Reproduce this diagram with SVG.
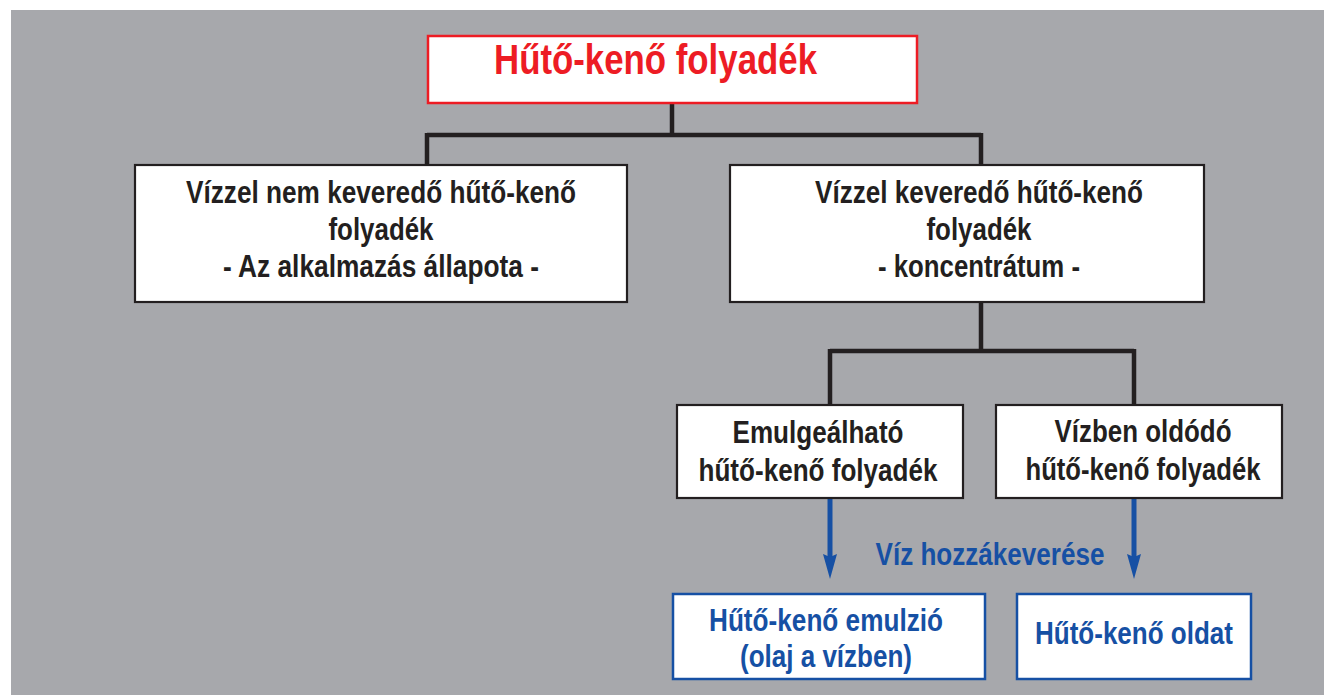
<svg xmlns="http://www.w3.org/2000/svg" width="1324" height="695" viewBox="0 0 1324 695">
<style>
text{font-family:"Liberation Sans",Arial,sans-serif;font-weight:bold;text-anchor:middle}
.blk{fill:#231f20;font-size:31px}
.blu{fill:#1650a4;font-size:31px}
.red{fill:#ed1c24;font-size:43px;text-anchor:start}
.bx{fill:#fff;stroke:#231f20;stroke-width:2.2}
.rbx{fill:#fff;stroke:#ed1c24;stroke-width:2.5}
.bbx{fill:#fff;stroke:#1650a4;stroke-width:2.5}
.con{fill:none;stroke:#231f20;stroke-width:4.5}
.arr{fill:none;stroke:#1650a4;stroke-width:5}
</style>
<defs>
<marker id="ah" markerUnits="userSpaceOnUse" markerWidth="26" markerHeight="14" refX="3" refY="7" orient="auto">
<path d="M0,0 L25,7 L0,14 L3,7 Z" fill="#1650a4"/>
</marker>
</defs>
<rect x="11" y="10" width="1313" height="685" fill="#a7a8ac"/>
<g id="connectors">
<path class="con" d="M672,103 V135 M427,135 H981 M427,133 V165 M981,133 V165"/>
<path class="con" d="M981,302 V351 M830,351 H1134 M830,349 V405 M1134,349 V405"/>
<line class="arr" x1="830" y1="499" x2="830" y2="557" marker-end="url(#ah)"/>
<line class="arr" x1="1134" y1="499" x2="1134" y2="557" marker-end="url(#ah)"/>
</g>
<g id="label-viz">
<text class="blu" x="990" y="565" textLength="229" lengthAdjust="spacingAndGlyphs">Víz hozzákeverése</text>
</g>
<g id="node-root">
<rect class="rbx" x="428" y="36" width="489" height="67"/>
<text class="red" x="494" y="74" textLength="323" lengthAdjust="spacingAndGlyphs">Hűtő-kenő folyadék</text>
</g>
<g id="node-nem">
<rect class="bx" x="135" y="165" width="492" height="137"/>
<text class="blk" x="381" y="203" textLength="390" lengthAdjust="spacingAndGlyphs">Vízzel nem keveredő hűtő-kenő</text>
<text class="blk" x="381" y="240" textLength="105" lengthAdjust="spacingAndGlyphs">folyadék</text>
<text class="blk" x="381" y="277" textLength="316" lengthAdjust="spacingAndGlyphs">- Az alkalmazás állapota -</text>
</g>
<g id="node-kev">
<rect class="bx" x="730" y="165" width="474" height="137"/>
<text class="blk" x="979" y="203" textLength="328" lengthAdjust="spacingAndGlyphs">Vízzel keveredő hűtő-kenő</text>
<text class="blk" x="979" y="240" textLength="105" lengthAdjust="spacingAndGlyphs">folyadék</text>
<text class="blk" x="979" y="277" textLength="202" lengthAdjust="spacingAndGlyphs">- koncentrátum -</text>
</g>
<g id="node-emul">
<rect class="bx" x="677" y="405" width="286" height="93"/>
<text class="blk" x="818" y="443" textLength="171" lengthAdjust="spacingAndGlyphs">Emulgeálható</text>
<text class="blk" x="818" y="481" textLength="239" lengthAdjust="spacingAndGlyphs">hűtő-kenő folyadék</text>
</g>
<g id="node-old">
<rect class="bx" x="996" y="405" width="286" height="93"/>
<text class="blk" x="1143" y="442" textLength="177" lengthAdjust="spacingAndGlyphs">Vízben oldódó</text>
<text class="blk" x="1143" y="480" textLength="235" lengthAdjust="spacingAndGlyphs">hűtő-kenő folyadék</text>
</g>
<g id="node-emulzio">
<rect class="bbx" x="673" y="594" width="312" height="85"/>
<text class="blu" x="826" y="631" textLength="234" lengthAdjust="spacingAndGlyphs">Hűtő-kenő emulzió</text>
<text class="blu" x="826" y="667" textLength="172" lengthAdjust="spacingAndGlyphs">(olaj a vízben)</text>
</g>
<g id="node-oldat">
<rect class="bbx" x="1017" y="594" width="234" height="85"/>
<text class="blu" x="1134" y="644" textLength="198" lengthAdjust="spacingAndGlyphs">Hűtő-kenő oldat</text>
</g>
</svg>
